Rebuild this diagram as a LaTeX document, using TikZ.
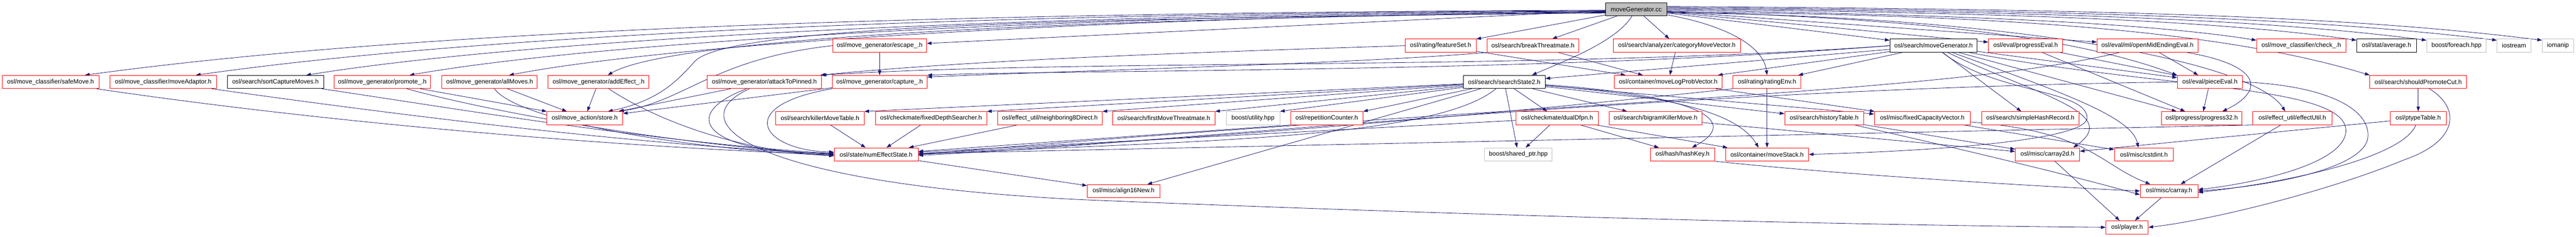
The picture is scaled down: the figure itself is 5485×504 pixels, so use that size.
\documentclass[tikz,border=0pt]{standalone}
\usepackage{fontspec}
\setmainfont{Liberation Sans}
\usetikzlibrary{arrows.meta}
\pgfdeclarelayer{back}
\pgfdeclarelayer{bg}
\pgfsetlayers{back,bg,main}
\definecolor{ecol}{HTML}{191970}
\definecolor{gline}{HTML}{BFBFBF}
\definecolor{rline}{HTML}{FF0000}
\newcommand\NB[6]{\node[#1,minimum width={(#4-#3)*1pt}] (#2) at ({(#3+#4)/2},#5) {#6};}
\tikzset{
 nd/.style={rectangle,inner sep=0pt,minimum height=28pt,fill=white,line width=1pt,font=\fontsize{13.3}{16}\selectfont},
 rb/.style={nd,draw=rline},
 bb/.style={nd,draw=black},
 gb/.style={nd,draw=gline},
 rt/.style={nd,draw=black,fill=gline},
 ed/.style={draw=ecol,line width=0.9pt,-{Triangle[length=10pt,width=7pt]}}
}
\begin{document}
\begin{tikzpicture}[x=1pt,y=-1pt]
\begin{pgfonlayer}{back}
\fill[white] (0,0) rectangle (5485,504);
\end{pgfonlayer}
\useasboundingbox (0,0) rectangle (5485,504);
% rank 0
\NB{rt}{root}{3419}{3549}{19.7}{moveGenerator.cc}
% rank 1
\NB{rb}{escape}{1773}{1973}{97.2}{osl/move\_generator/escape\_.h}
\NB{rb}{featureSet}{2992}{3143}{97.2}{osl/rating/featureSet.h}
\NB{rb}{breakThreat}{3166}{3362}{97.2}{osl/search/breakThreatmate.h}
\NB{rb}{categoryMV}{3435}{3706}{97.2}{osl/search/analyzer/categoryMoveVector.h}
\NB{bb}{searchMG}{4024}{4210}{97.2}{osl/search/moveGenerator.h}
\NB{rb}{progressEval}{4234}{4392}{97.2}{osl/eval/progressEval.h}
\NB{rb}{openMid}{4465}{4680}{97.2}{osl/eval/ml/openMidEndingEval.h}
\NB{rb}{check}{4805}{4995}{97.2}{osl/move\_classifier/check\_.h}
\NB{bb}{average}{5018}{5145}{97.2}{osl/stat/average.h}
\NB{gb}{foreach}{5167}{5294}{97.2}{boost/foreach.hpp}
\NB{gb}{iostream}{5317}{5389}{97.2}{iostream}
\NB{gb}{iomanip}{5413}{5480}{97.2}{iomanip}
% rank 2
\NB{rb}{safeMove}{4.5}{211}{174.5}{osl/move\_classifier/safeMove.h}
\NB{rb}{moveAdaptor}{234}{461}{174.5}{osl/move\_classifier/moveAdaptor.h}
\NB{bb}{sortCapture}{484}{689}{174.5}{osl/search/sortCaptureMoves.h}
\NB{rb}{promote}{711}{917}{174.5}{osl/move\_generator/promote\_.h}
\NB{rb}{allMoves}{941}{1144}{174.5}{osl/move\_generator/allMoves.h}
\NB{rb}{addEffect}{1167}{1382}{174.5}{osl/move\_generator/addEffect\_.h}
\NB{rb}{attackToPinned}{1506}{1749}{174.5}{osl/move\_generator/attackToPinned.h}
\NB{rb}{capture}{1772}{1974}{174.5}{osl/move\_generator/capture\_.h}
\NB{bb}{searchState2}{3116}{3290}{174.5}{osl/search/searchState2.h}
\NB{rb}{moveLogProb}{3437}{3667}{174.5}{osl/container/moveLogProbVector.h}
\NB{rb}{ratingEnv}{3690}{3835}{174.5}{osl/rating/ratingEnv.h}
\NB{rb}{pieceEval}{4636}{4775}{174.5}{osl/eval/pieceEval.h}
\NB{rb}{shouldPromote}{5046}{5252}{174.5}{osl/search/shouldPromoteCut.h}
% rank 3
\NB{rb}{store}{1164}{1326}{251.7}{osl/move\_action/store.h}
\NB{rb}{killerMove}{1652}{1840}{251.7}{osl/search/killerMoveTable.h}
\NB{rb}{fixedDepth}{1864}{2101}{251.7}{osl/checkmate/fixedDepthSearcher.h}
\NB{rb}{neighboring8}{2124}{2347}{251.7}{osl/effect\_util/neighboring8Direct.h}
\NB{rb}{firstMoveThreat}{2369}{2587}{251.7}{osl/search/firstMoveThreatmate.h}
\NB{gb}{utility}{2611}{2725}{251.7}{boost/utility.hpp}
\NB{rb}{repetition}{2748}{2902}{251.7}{osl/repetitionCounter.h}
\NB{rb}{dualDfpn}{3228}{3403}{251.7}{osl/checkmate/dualDfpn.h}
\NB{rb}{bigramKiller}{3426}{3624}{251.7}{osl/search/bigramKillerMove.h}
\NB{rb}{historyTable}{3800}{3968}{251.7}{osl/search/historyTable.h}
\NB{rb}{fixedCapacity}{3991}{4195}{251.7}{osl/misc/fixedCapacityVector.h}
\NB{rb}{simpleHash}{4219}{4427}{251.7}{osl/search/simpleHashRecord.h}
\NB{rb}{progress32}{4602}{4774}{251.7}{osl/progress/progress32.h}
\NB{rb}{effectUtil}{4797}{4965}{251.7}{osl/effect\_util/effectUtil.h}
\NB{rb}{ptypeTable}{5089}{5209}{251.7}{osl/ptypeTable.h}
% rank 4
\NB{rb}{numEffect}{1776}{1955}{328.8}{osl/state/numEffectState.h}
\NB{gb}{sharedPtr}{3161}{3305}{328.8}{boost/shared\_ptr.hpp}
\NB{rb}{hashKey}{3514}{3651}{328.8}{osl/hash/hashKey.h}
\NB{rb}{moveStack}{3674}{3851}{328.8}{osl/container/moveStack.h}
\NB{rb}{carray2d}{4291}{4428}{328.8}{osl/misc/carray2d.h}
\NB{rb}{cstdint}{4502}{4628}{328.8}{osl/misc/cstdint.h}
% rank 5
\NB{rb}{align16New}{2315}{2470}{406.7}{osl/misc/align16New.h}
\NB{rb}{carray}{4557}{4680}{406.7}{osl/misc/carray.h}
% rank 6
\NB{rb}{player}{4484}{4574}{484}{osl/player.h}

\begin{pgfonlayer}{bg}
% ---- root
\draw[ed] (root) -- (escape);
\draw[ed] (root) -- (featureSet);
\draw[ed] (root) -- (breakThreat);
\draw[ed] (root) -- (categoryMV);
\draw[ed] (root) -- (searchMG);
\draw[ed] (root) -- (progressEval);
\draw[ed] (root) -- (openMid);
\draw[ed] ([yshift=-2pt]root.east) .. controls (4100,30) and (4550,45) .. ([yshift=-3pt]check.north west);
\draw[ed] ([yshift=0pt]root.east) .. controls (4200,26) and (4700,40) .. ([yshift=-3pt]average.north west);
\draw[ed] ([yshift=2pt]root.east) .. controls (4300,24) and (4800,38) .. ([yshift=-3pt]foreach.north west);
\draw[ed] ([yshift=4pt]root.east) .. controls (4400,22) and (4900,36) .. ([yshift=-3pt]iostream.north west);
\draw[ed] ([yshift=6pt]root.east) .. controls (4500,20) and (5000,34) .. ([yshift=-3pt]iomanip.north west);
\draw[ed] ([yshift=-2pt]root.west) .. controls (2000,27) and (900,62) .. ([xshift=73pt]safeMove.north);
\draw[ed] ([yshift=-3pt]root.west) .. controls (2100,28) and (1050,70) .. ([xshift=69.5pt]moveAdaptor.north);
\draw[ed] ([yshift=-4pt]root.west) .. controls (2200,30) and (1150,80) .. ([xshift=65.5pt]sortCapture.north);
\draw[ed] ([yshift=-5pt]root.west) .. controls (2300,32) and (1300,85) .. ([xshift=58pt]promote.north);
\draw[ed] ([yshift=-6pt]root.west) .. controls (2400,34) and (1450,90) .. ([xshift=41.5pt]allMoves.north);
\draw[ed] ([yshift=-7pt]root.west) .. controls (2500,36) and (1450,70) .. ([xshift=19.5pt]addEffect.north);
\draw[ed] ([yshift=-8pt]root.west) .. controls (2400,38) and (1560,50) .. (1480,130) .. controls (1440,175) and (1400,215) .. ([xshift=-32pt]store.north east);
\draw[ed] (root) .. controls (3440,90) and (3330,130) .. ([xshift=59pt]searchState2.north);
\draw[ed] (root) .. controls (3680,55) and (3755,100) .. (ratingEnv.north);
\draw[ed] ([yshift=-6pt]root.east) .. controls (4300,30) and (4750,70) .. (shouldPromote.north west);
\draw[ed] ([yshift=-4pt]root.east) .. controls (4100,40) and (4420,80) .. (pieceEval.north west);
\draw[ed] ([yshift=-8pt]root.east) .. controls (4200,30) and (4790,120) .. ([xshift=-15pt]effectUtil.north);
% ---- search/moveGenerator.h
\draw[ed] (searchMG) -- (searchState2);
\draw[ed] (searchMG) -- (moveLogProb);
\draw[ed] (searchMG) -- (ratingEnv);
\draw[ed] (searchMG) -- (simpleHash);
\draw[ed] (searchMG) .. controls (4330,200) and (4520,240) .. ([xshift=55pt]carray2d.north);
\draw[ed] (searchMG) .. controls (4400,200) and (4540,250) .. ([xshift=-12pt]cstdint.north);
\draw[ed] (searchMG) -- (progress32);
\draw[ed] (searchMG) -- (pieceEval);
\draw[ed] (searchMG) .. controls (4250,200) and (4440,190) .. (4444,250) .. controls (4448,300) and (4100,322) .. (moveStack.east);
\draw[ed] (searchMG.west) .. controls (3300,150) and (2300,125) .. (attackToPinned.north east);
\draw[ed] (searchMG.west) .. controls (3300,155) and (2300,148) .. (capture.north east);
\draw[ed] (searchMG) .. controls (4600,190) and (5000,180) .. (4995,280) .. controls (4990,350) and (4800,390) .. ([yshift=3pt]carray.east);
% ---- rank 1 others
\draw[ed] (escape) -- (capture);
\draw[ed] (escape.west) .. controls (1520,125) and (1460,215) .. ([xshift=-8pt]store.north east);
\draw[ed] (featureSet) -- (moveLogProb);
\draw[ed] (breakThreat) -- (moveLogProb);
\draw[ed] (categoryMV) -- (moveLogProb);
\draw[ed] (featureSet.west) .. controls (2600,110) and (2100,125) .. ([xshift=-3pt]attackToPinned.north east);
\draw[ed] (breakThreat.south west) .. controls (2900,135) and (2300,150) .. ([yshift=-4pt]capture.north east);
\draw[ed] (progressEval) -- (pieceEval);
\draw[ed] (progressEval) -- (progress32);
\draw[ed] (openMid) -- (pieceEval);
\draw[ed] ([xshift=-24pt]openMid.south east) .. controls (4820,140) and (4820,195) .. ([xshift=44pt]progress32.north);
\draw[ed] (openMid) .. controls (4150,200) and (3300,215) .. (numEffect.east);
% ---- rank 2 left group
\draw[ed] (promote) -- (store);
\draw[ed] (allMoves) -- (store);
\draw[ed] (addEffect) -- (store);
\draw[ed] (attackToPinned) -- (store);
\draw[ed] (capture) -- (store);
\draw[ed] (safeMove) .. controls (700,262) and (1300,312) .. ([yshift=-1pt]numEffect.west);
\draw[ed] (moveAdaptor) .. controls (850,245) and (1350,308) .. ([yshift=1pt]numEffect.west);
\draw[ed] (sortCapture) .. controls (950,228) and (1400,304) .. ([yshift=2pt]numEffect.west);
\draw[ed] (promote) .. controls (1050,240) and (1450,310) .. (numEffect.west);
\draw[ed] (allMoves) .. controls (1100,255) and (1450,318) .. ([yshift=-2pt]numEffect.west);
\draw[ed] (addEffect) .. controls (1380,245) and (1550,320) .. ([yshift=-3pt]numEffect.west);
\draw[ed] (attackToPinned) .. controls (1430,250) and (1520,330) .. ([yshift=3pt]numEffect.west);
\draw[ed] (capture.south west) .. controls (1560,225) and (1620,320) .. ([yshift=5pt]numEffect.west);
\draw[ed] (attackToPinned) .. controls (1440,260) and (1600,390) .. (2300,425) .. controls (3200,462) and (4000,480) .. (player.west);
% ---- searchState2
\draw[ed] (searchState2) -- (killerMove.north east);
\draw[ed] (searchState2) -- (fixedDepth.north east);
\draw[ed] (searchState2) -- (neighboring8.north east);
\draw[ed] (searchState2) -- (firstMoveThreat.north east);
\draw[ed] (searchState2) -- (utility.north east);
\draw[ed] (searchState2) -- (repetition.north east);
\draw[ed] (searchState2) -- (dualDfpn);
\draw[ed] (searchState2) -- (sharedPtr);
\draw[ed] (searchState2) -- (bigramKiller);
\draw[ed] (searchState2) -- (historyTable);
\draw[ed] (searchState2) -- (fixedCapacity);
\draw[ed] (searchState2) .. controls (3050,300) and (2500,300) .. (numEffect.east);
\draw[ed] (searchState2) -- (align16New);
\draw[ed] (searchState2) .. controls (3580,200) and (3720,250) .. ([xshift=20pt]hashKey.north);
\draw[ed] (searchState2) .. controls (3560,205) and (3700,240) .. ([xshift=-18pt]moveStack.north);
% ---- rank 2 right group
\draw[ed] (moveLogProb) -- (fixedCapacity);
\draw[ed] (ratingEnv) -- (moveStack);
\draw[ed] (ratingEnv.south west) .. controls (3300,230) and (2700,290) .. ([yshift=2pt]numEffect.east);
\draw[ed] (pieceEval) -- (progress32);
\draw[ed] (pieceEval.west) .. controls (3500,190) and (2500,305) .. ([yshift=-2pt]numEffect.east);
\draw[ed] (pieceEval.east) .. controls (4950,182) and (5045,230) .. (5042,290) .. controls (5040,355) and (4850,395) .. (carray.east);
\draw[ed] (shouldPromote) -- (ptypeTable);
\draw[ed] (shouldPromote) .. controls (5240,230) and (5235,300) .. (5120,340) .. controls (4950,410) and (4700,470) .. (player.east);
% ---- rank 3
\draw[ed] (killerMove) -- (numEffect);
\draw[ed] (fixedDepth) -- (numEffect);
\draw[ed] (neighboring8) -- (numEffect);
\draw[ed] (repetition.south west) -- (numEffect);
\draw[ed] (dualDfpn) -- (numEffect);
\draw[ed] (dualDfpn) -- (sharedPtr);
\draw[ed] (dualDfpn) -- (hashKey);
\draw[ed] (dualDfpn) -- (moveStack);
\draw[ed] (bigramKiller) -- (carray2d);
\draw[ed] (historyTable) -- (carray2d);
\draw[ed] (historyTable) .. controls (4100,300) and (4400,370) .. ([yshift=-8pt]carray.west);
\draw[ed] (fixedCapacity) -- (cstdint);
\draw[ed] (fixedCapacity) .. controls (4450,280) and (4470,350) .. ([xshift=-40pt]carray.north);
\draw[ed] (effectUtil) -- (carray);
\draw[ed] (effectUtil.south west) -- (numEffect);
\draw[ed] (ptypeTable) -- (carray2d);
\draw[ed] (ptypeTable) .. controls (5120,330) and (4900,385) .. ([yshift=-3pt]carray.east);
% ---- rank 4 and below
\draw[ed] (numEffect) -- (align16New);
\draw[ed] (hashKey.south east) .. controls (3900,370) and (4300,395) .. (carray.west);
\draw[ed] (carray2d) -- (player);
\draw[ed] (carray) -- (player);
\end{pgfonlayer}
\end{tikzpicture}
\end{document}
